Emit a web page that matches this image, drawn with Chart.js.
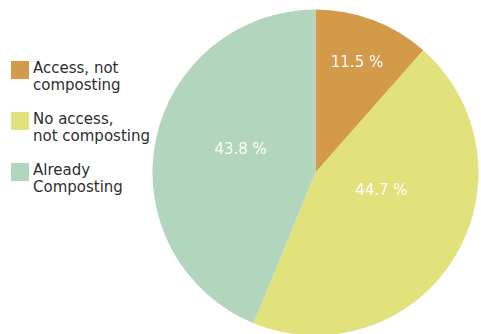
<!DOCTYPE html>
<html lang="en">
<head>
  <meta charset="UTF-8">
  <script src="https://cdn.jsdelivr.net/npm/chart.js@4.4.0/dist/chart.umd.min.js"></script>
  <title>Composting access</title>
  <style>
    html, body { margin: 0; padding: 0; background: #fff; overflow: hidden; width: 481px; height: 334px; }
    #wrap { position: absolute; left: 150px; top: 0; width: 331px; height: 345px; }
    #legend { position: absolute; left: 11px; top: 61px; font-family: "DejaVu Sans", sans-serif; font-size: 15px; color: #2e2e2e; }
    .item { position: relative; height: 51px; }
    .box { position: absolute; left: 0; top: 0; width: 18px; height: 18px; }
    .txt { position: absolute; left: 22px; top: -1px; line-height: 17px; white-space: nowrap; }
  </style>
</head>
<body>
  <div id="legend"></div>
  <div id="wrap"><canvas id="chart"></canvas></div>

  <script>
    // data
    const categories = [['Access, not', 'composting'], ['No access,', 'not composting'], ['Already', 'Composting']];
    const shares = [11.5, 44.7, 43.8];
    const colors = ['#d39a4a', '#e2e27d', '#b2d5be'];

    // legend (html)
    const elLegend = document.getElementById('legend');
    categories.forEach((lines, i) => {
      const item = document.createElement('div');
      item.className = 'item';
      item.innerHTML = '<div class="box" style="background:' + colors[i] + '"></div>' +
        '<div class="txt">' + lines.join('<br>') + '</div>';
      elLegend.appendChild(item);
    });

    // white percent labels inside slices
    const labelFactor = [0.72, 0.42, 0.48];
    const labelShift = [0, -0.28, 0.1];   // angle tweak, radians
    const sliceLabels = {
      id: 'sliceLabels',
      afterDatasetsDraw(chart) {
        const ctx = chart.ctx;
        const meta = chart.getDatasetMeta(0);
        ctx.save();
        ctx.fillStyle = '#fff';
        ctx.font = '15px "DejaVu Sans", sans-serif';
        ctx.textAlign = 'center';
        ctx.textBaseline = 'middle';
        meta.data.forEach((arc, i) => {
          const a = (arc.startAngle + arc.endAngle) / 2 + labelShift[i];
          const r = arc.outerRadius * labelFactor[i];
          ctx.fillText(shares[i].toFixed(1) + ' %', arc.x + Math.cos(a) * r, arc.y + Math.sin(a) * r);
        });
        ctx.restore();
      }
    };

    new Chart(document.getElementById('chart'), {
      type: 'pie',
      data: {
        labels: categories.map(l => l.join(' ')),
        datasets: [{
          data: shares,
          backgroundColor: colors,
          borderWidth: 0
        }]
      },
      options: {
        responsive: true,
        maintainAspectRatio: false,
        animation: false,
        radius: 163,
        layout: { padding: 0 },
        plugins: {
          legend: { display: false },
          tooltip: { enabled: false }
        }
      },
      plugins: [sliceLabels]
    });
  </script>
</body>
</html>
